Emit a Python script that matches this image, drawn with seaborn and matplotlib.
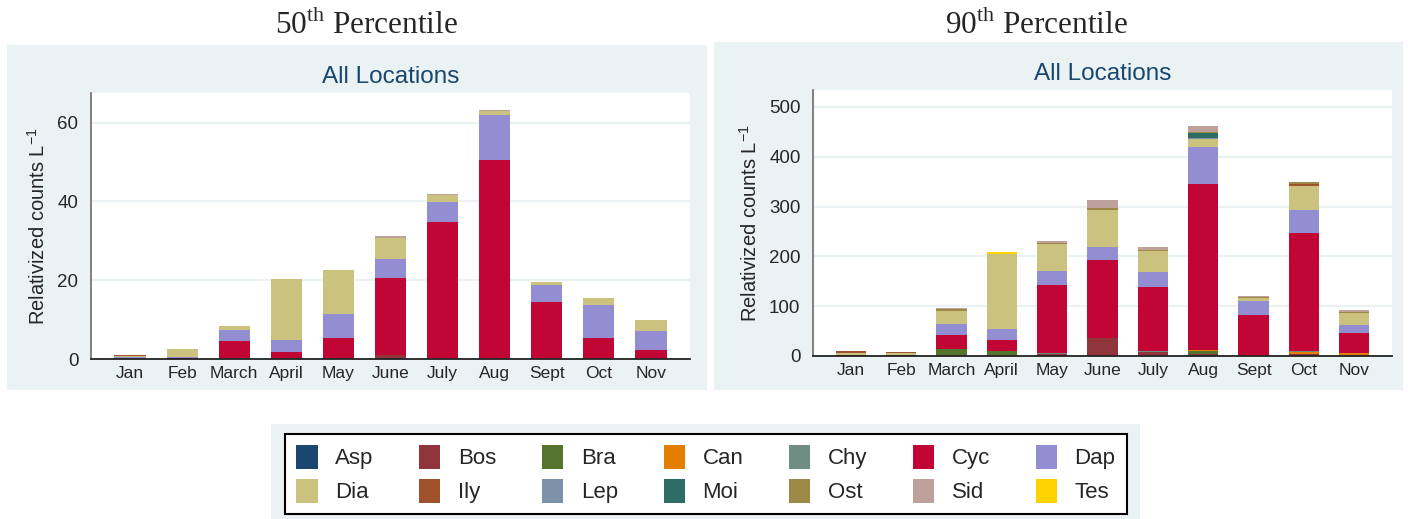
import matplotlib
matplotlib.use("Agg")
import matplotlib.pyplot as plt
from matplotlib.patches import Rectangle, Patch
import numpy as np
import pandas as pd
import seaborn as sns

# ---------------------------------------------------------------- data
months = ["Jan", "Feb", "March", "April", "May", "June", "July", "Aug", "Sept", "Oct", "Nov"]
taxa = ["Asp", "Bos", "Bra", "Can", "Chy", "Cyc", "Dap",
        "Dia", "Ily", "Lep", "Moi", "Ost", "Sid", "Tes"]
taxa_colors = ["#1a476f", "#90353b", "#55752f", "#e37e00", "#6e8e84", "#c10534", "#938dd2",
               "#cac27e", "#a0522d", "#7b92a8", "#2d6d66", "#9c8847", "#bfa19c", "#ffd200"]

# 50th percentile, relativized counts per litre (Jan..Nov)
p50_asp = [0.05, 0, 0, 0, 0, 0, 0, 0, 0, 0, 0]
p50_bos = [0, 0, 0, 0, 0.15, 0.9, 0, 0, 0, 0.15, 0]
p50_bra = [0, 0, 0.2, 0.3, 0, 0, 0, 0, 0, 0, 0]
p50_cyc = [0.05, 0.15, 4.4, 1.6, 5.2, 19.7, 34.8, 50.5, 14.5, 5.2, 2.4]
p50_dap = [0.3, 0.35, 2.8, 3.0, 6.1, 4.8, 5.0, 11.4, 4.3, 8.4, 4.8]
p50_dia = [0.25, 2.1, 1.0, 15.4, 11.1, 5.3, 1.7, 1.1, 0.8, 1.7, 2.8]
p50_ily = [0.3, 0, 0, 0, 0, 0, 0, 0, 0, 0, 0]
p50_sid = [0, 0, 0, 0, 0, 0.5, 0.4, 0.2, 0, 0, 0]

# 90th percentile, relativized counts per litre (Jan..Nov)
p90_asp = [0, 0, 0, 1, 0, 0, 0, 2, 0, 0, 0]
p90_bos = [1.5, 1.5, 1.5, 2, 5, 36, 9, 3, 1, 5, 2]
p90_bra = [0, 0, 12, 7.5, 0, 0, 0, 5, 0, 0, 0]
p90_can = [0, 0, 0, 0, 0, 0, 0, 1.5, 0, 3, 5]
p90_chy = [0, 0, 0, 0.5, 1.5, 1, 1.5, 0, 0, 1.5, 0]
p90_cyc = [0, 0, 28, 20.5, 137, 156, 129, 334, 82, 238, 40]
p90_dap = [0, 0, 22, 22, 27, 26, 30, 74, 28, 46, 16]
p90_dia = [5, 4, 26.5, 151, 55, 75, 40.5, 15.5, 5, 48, 24]
p90_ily = [4, 2, 0, 0, 0, 0, 0, 1, 0, 4, 0]
p90_lep = [0, 0, 0, 0, 0, 0, 0, 1, 0, 0, 0]
p90_moi = [0, 0, 0, 0, 0, 0, 0, 10, 0, 0, 0]
p90_ost = [0, 0, 3.5, 0.5, 2, 3, 2.5, 2.5, 2, 4, 2]
p90_sid = [0, 1.2, 2, 0, 4, 17, 7, 11.5, 3, 0, 4]
p90_tes = [0, 0, 0, 3.3, 0, 0, 0, 0, 0, 0, 0]

zeros = [0] * len(months)
p50 = pd.DataFrame({"Asp": p50_asp, "Bos": p50_bos, "Bra": p50_bra, "Can": zeros,
                    "Chy": zeros, "Cyc": p50_cyc, "Dap": p50_dap, "Dia": p50_dia,
                    "Ily": p50_ily, "Lep": zeros, "Moi": zeros, "Ost": zeros,
                    "Sid": p50_sid, "Tes": zeros}, index=months)[taxa]
p90 = pd.DataFrame({"Asp": p90_asp, "Bos": p90_bos, "Bra": p90_bra, "Can": p90_can,
                    "Chy": p90_chy, "Cyc": p90_cyc, "Dap": p90_dap, "Dia": p90_dia,
                    "Ily": p90_ily, "Lep": p90_lep, "Moi": p90_moi, "Ost": p90_ost,
                    "Sid": p90_sid, "Tes": p90_tes}, index=months)[taxa]
palette = dict(zip(taxa, taxa_colors))

# ---------------------------------------------------------------- style
sns.set_style("white")
plt.rcParams["font.family"] = ["Liberation Sans", "DejaVu Sans"]
plt.rcParams["mathtext.fontset"] = "custom"
plt.rcParams["mathtext.rm"] = "Liberation Serif"
plt.rcParams["mathtext.sf"] = "Liberation Sans"

PANEL_BG = "#eaf2f3"
TITLE_COL = "#1a476f"

W, H = 1408, 519
fig = plt.figure(figsize=(W / 100, H / 100), dpi=100)
fig.patch.set_facecolor("white")


def frac_box(x0, y0, x1, y1):
    """Pixel box (top-left origin) -> figure fraction [l, b, w, h]."""
    return [x0 / W, 1 - y1 / H, (x1 - x0) / W, (y1 - y0) / H]


# light graph-region backgrounds
for box in [(7, 45, 707, 390), (714, 42, 1403, 390), (271, 424, 1140, 519)]:
    l, b, w, h = frac_box(*box)
    fig.add_artist(Rectangle((l, b), w, h, transform=fig.transFigure,
                             facecolor=PANEL_BG, edgecolor="none", zorder=0))

# panel headers
fig.text(367 / W, 1 - 25 / H, r"50$^{\rm th}$ Percentile", ha="center", va="center",
         fontsize=22.5, family="Liberation Serif")
fig.text(1037 / W, 1 - 25 / H, r"90$^{\rm th}$ Percentile", ha="center", va="center",
         fontsize=22.5, family="Liberation Serif")


def draw_panel(ax, df, ymax, yticks):
    ax.set_facecolor("white")
    cum = df.cumsum(axis=1)
    # overlay cumulative totals from the top taxon down -> stacked bars
    for taxon in reversed(taxa):
        sns.barplot(x=months, y=cum[taxon].values, order=months, color=palette[taxon],
                    saturation=1, width=0.6, errorbar=None, linewidth=0, ax=ax)
    ax.set_xlim(-0.75, len(months) - 0.25)
    ax.set_ylim(0, ymax)
    ax.set_yticks(yticks)
    ax.set_axisbelow(True)
    ax.yaxis.grid(True, color=PANEL_BG, linewidth=1.6)
    ax.xaxis.grid(False)
    for side in ["top", "right"]:
        ax.spines[side].set_visible(False)
    ax.spines["left"].set_color("#6b6b6b")
    ax.spines["left"].set_linewidth(1.2)
    ax.spines["bottom"].set_color("#222222")
    ax.spines["bottom"].set_linewidth(1.3)
    ax.tick_params(axis="y", direction="out", length=6, width=1.1, color="#333333",
                   labelsize=13.5, pad=3)
    ax.tick_params(axis="x", length=0, labelsize=12.5, pad=5)
    ax.set_xlabel("")
    ax.set_ylabel(r"Relativized counts L$^{\mathsf{-1}}$", fontsize=14.5, labelpad=6)
    ax.set_title("All Locations", color=TITLE_COL, fontsize=17.5, pad=7)


ax1 = fig.add_axes(frac_box(91, 93, 690, 359))
draw_panel(ax1, p50, 67.5, [0, 20, 40, 60])

ax2 = fig.add_axes(frac_box(813, 90, 1392, 356))
draw_panel(ax2, p90, 534, [0, 100, 200, 300, 400, 500])

# shared legend, filled row by row (matplotlib fills columns first)
ncol = 7
order = [r * ncol + c for c in range(ncol) for r in range(2)]
handles = [Patch(facecolor=palette[taxa[i]], edgecolor="none") for i in order]
labels = [taxa[i] for i in order]
leg = fig.legend(handles, labels, ncol=ncol, loc="center", bbox_to_anchor=(706 / W, 1 - 474 / H),
                 frameon=True, fancybox=False, edgecolor="black", facecolor="white",
                 framealpha=1, fontsize=16, handlelength=0.95, handleheight=1.3,
                 handletextpad=0.8, columnspacing=2.05, labelspacing=0.42, borderpad=0.5)
leg.get_frame().set_linewidth(1.5)

fig.savefig("out.png", dpi=100, facecolor="white")
